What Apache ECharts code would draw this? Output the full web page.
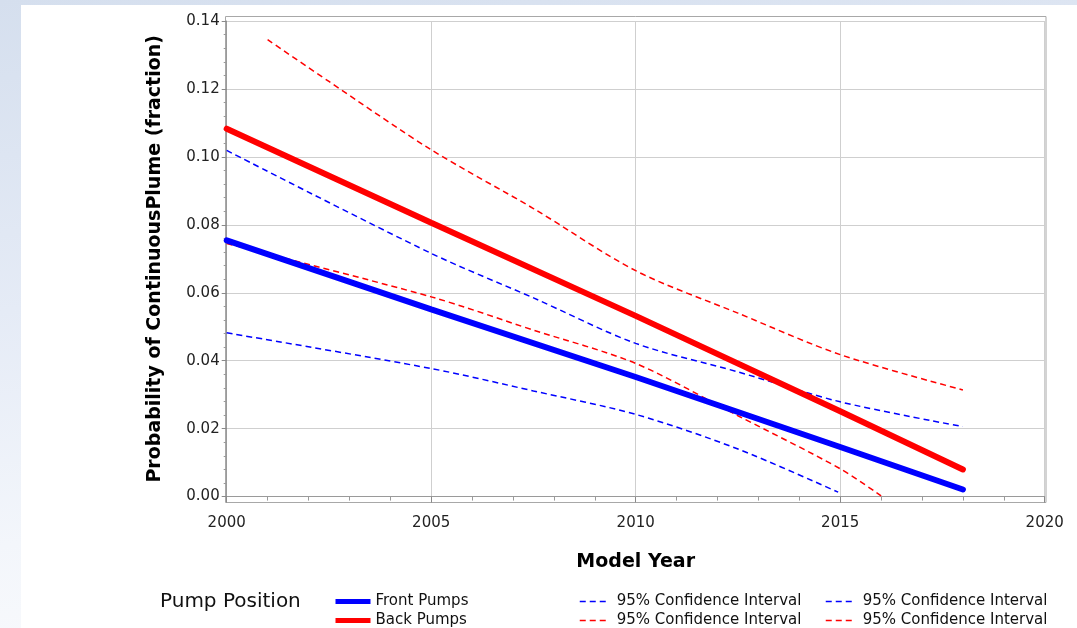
<!DOCTYPE html>
<html>
<head>
<meta charset="utf-8">
<script src="https://cdn.jsdelivr.net/npm/echarts@6/dist/echarts.min.js"></script>
<style>
html,body{margin:0;padding:0;width:1077px;height:628px;overflow:hidden;}
body{background:linear-gradient(172deg,#d5dfee 0%,#e5ebf6 40%,#f3f6fb 70%,#fdfdfe 100%);}
#panel{position:absolute;left:21px;top:5px;right:0;bottom:0;background:#fff;}
#chart{position:absolute;left:0;top:0;width:1077px;height:628px;}
</style>
</head>
<body>
<div id="panel"></div>
<div id="chart"></div>
<script>
// ---- data ----
const fitYears = [2000, 2005, 2010, 2015, 2018];
const frontPumps = [0.0754, 0.0551, 0.0352, 0.0146, 0.0021];
const backPumps  = [0.1083, 0.0806, 0.0532, 0.0251, 0.0080];

const frontUpperYears = [2000, 2005, 2007.5, 2010, 2012.5, 2015, 2018];
const frontUpper      = [0.1019, 0.0716, 0.0585, 0.0451, 0.0367, 0.0279, 0.0206];
const frontLowerYears = [2000, 2005, 2007.5, 2010, 2012.5, 2014.95];
const frontLower      = [0.0482, 0.0377, 0.0311, 0.0242, 0.0140, 0.0013];

const backUpperYears = [2001, 2002.5, 2005, 2007.5, 2010, 2012.5, 2015, 2018];
const backUpper      = [0.1345, 0.1222, 0.1021, 0.0848, 0.0665, 0.0540, 0.0418, 0.0314];
const backLowerYears = [2000, 2005, 2007.5, 2010, 2012.5, 2015, 2016];
const backLower      = [0.0745, 0.0588, 0.0490, 0.0392, 0.0238, 0.0082, 0.0002];

const yTicks = [0, 0.02, 0.04, 0.06, 0.08, 0.10, 0.12, 0.14];
const xTicks = [2000, 2005, 2010, 2015, 2020];

const CI_LABEL = '95% Confidence Interval';
const FONT = 'DejaVu Sans, Verdana, sans-serif';

function pairs(xs, ys){ return xs.map((x,i)=>[x, ys[i]]); }

const chart = echarts.init(document.getElementById('chart'), null, {renderer:'canvas'});

function fitSeries(name, color, xs, ys){
  return {name, type:'line', data:pairs(xs,ys), symbol:'none', smooth:false,
    lineStyle:{color, width:6, cap:'round'}, itemStyle:{color}, z:4};
}
function ciSeries(name, color, xs, ys){
  return {name, type:'line', data:pairs(xs,ys), symbol:'none', smooth:0.3,
    lineStyle:{color, width:1.5, type:[6,4]}, itemStyle:{color}, z:3};
}

function legendItem(name, left, top, w, thick, label){
  const l = {
    orient:'horizontal', left:left, top:top, padding:0, itemWidth:w, itemHeight:14, itemGap:5,
    data:[name],
    textStyle:{fontFamily:FONT, fontSize:15, color:'#111', padding:[0,0,0,thick?0:5]},
    itemStyle:{color:'rgba(0,0,0,0)', borderColor:'rgba(0,0,0,0)', borderWidth:0, opacity:0},
    lineStyle: thick ? {width:5, cap:'butt'} : {width:1.5, type:[6,4]},
    selectedMode:false
  };
  if (label) l.formatter = () => label;
  return l;
}

chart.setOption({
  backgroundColor:'transparent',
  animation:false,
  grid:{left:226.7, right:32.3, top:21, bottom:131.4, containLabel:false},
  xAxis:{
    type:'value', min:xTicks[0], max:xTicks[xTicks.length-1], interval:5, offset:6,
    name:'Model Year', nameLocation:'middle', nameGap:50,
    nameTextStyle:{fontFamily:FONT, fontSize:19, fontWeight:'bold', color:'#000'},
    axisLine:{show:true, lineStyle:{color:'#9a9a9a', width:1}},
    axisTick:{show:true, length:6, lineStyle:{color:'#8a8a8a'}},
    minorTick:{show:true, splitNumber:5, length:4, lineStyle:{color:'#9a9a9a'}},
    axisLabel:{fontFamily:FONT, fontSize:15, color:'#222', margin:13,
      formatter:v=>String(v)},
    splitLine:{show:true, lineStyle:{color:'#cfcfcf', width:1}}
  },
  yAxis:{
    type:'value', min:yTicks[0], max:yTicks[yTicks.length-1], interval:0.02,
    name:'Probability of ContinuousPlume (fraction)', nameLocation:'middle', nameGap:62,
    nameTextStyle:{fontFamily:FONT, fontSize:19, fontWeight:'bold', color:'#000'},
    axisLine:{show:true, lineStyle:{color:'#9a9a9a', width:1}},
    axisTick:{show:true, length:5, lineStyle:{color:'#8a8a8a'}},
    minorTick:{show:true, splitNumber:5, length:3, lineStyle:{color:'#9a9a9a'}},
    axisLabel:{fontFamily:FONT, fontSize:15, color:'#222', margin:7,
      formatter:v=>v.toFixed(2)},
    splitLine:{show:true, lineStyle:{color:'#cfcfcf', width:1}}
  },
  legend:[
    legendItem('Front Pumps', 333, 594, 35, true),
    legendItem('Back Pumps', 333, 613, 35, true),
    legendItem('Front CI Lower', 579, 594, 27, false, CI_LABEL),
    legendItem('Back CI Lower', 579, 613, 27, false, CI_LABEL),
    legendItem('Front CI Upper', 825, 594, 27, false, CI_LABEL),
    legendItem('Back CI Upper', 825, 613, 27, false, CI_LABEL)
  ],
  graphic:[
    {type:'rect', silent:true, z:0, shape:{x:225.5, y:16.5, width:820.5, height:486},
      style:{fill:null, stroke:'#a8a8a8', lineWidth:1}},
    {type:'text', left:160, top:592, silent:true,
      style:{text:'Pump Position', font:'20px '+FONT, fill:'#111'}}
  ],
  series:[
    ciSeries('Front CI Lower', '#0000ff', frontLowerYears, frontLower),
    ciSeries('Back CI Lower', '#ff0000', backLowerYears, backLower),
    ciSeries('Front CI Upper', '#0000ff', frontUpperYears, frontUpper),
    ciSeries('Back CI Upper', '#ff0000', backUpperYears, backUpper),
    fitSeries('Front Pumps', '#0000ff', fitYears, frontPumps),
    fitSeries('Back Pumps', '#ff0000', fitYears, backPumps)
  ]
});
</script>
</body>
</html>
